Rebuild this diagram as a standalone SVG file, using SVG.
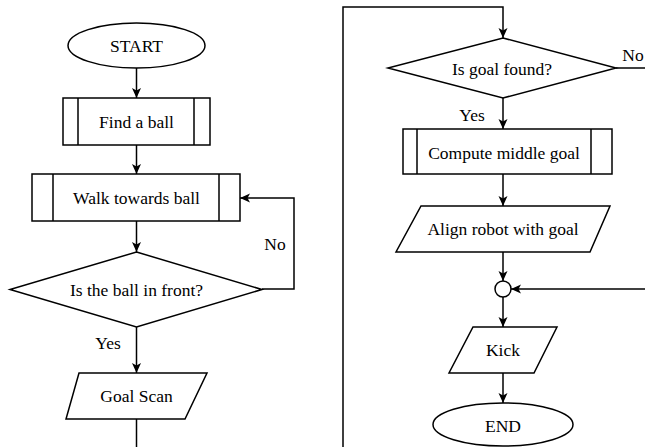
<svg xmlns="http://www.w3.org/2000/svg" width="645" height="447" viewBox="0 0 645 447">
<defs>
<marker id="arr" markerWidth="12" markerHeight="12" viewBox="0 0 12 12" refX="11" refY="6" orient="auto" markerUnits="userSpaceOnUse">
<path d="M1,1.5 L11,6 L1,10.5 L3.5,6 Z" fill="#000"/>
</marker>
</defs>
<style>
.s{fill:#fff;stroke:#000;stroke-width:1.5}
.l{fill:none;stroke:#000;stroke-width:1.5}
.c{fill:none;stroke:#000;stroke-width:1.5;marker-end:url(#arr)}
</style>
<rect width="645" height="447" fill="#fff"/>
<g id="connectors">
<path class="c" d="M136.5,68 V98"/>
<path class="c" d="M136.5,145 V174"/>
<path class="c" d="M136.5,221 V252"/>
<path class="c" d="M262,289 H294 V198 H240"/>
<path class="c" d="M136.5,327 V373"/>
<path class="l" d="M136.5,419 V447"/>
<path class="c" d="M343,447 V7 H503 V38"/>
<path class="l" d="M616,68 H645"/>
<path class="c" d="M503,98 V129"/>
<path class="c" d="M503,174 V206"/>
<path class="c" d="M503,252 V281"/>
<path class="c" d="M645,289 H511"/>
<path class="c" d="M503,297 V327"/>
<path class="c" d="M503,373 V403"/>
<text font-family="Liberation Serif" font-size="17.5" text-anchor="middle" x="275" y="250">No</text>
<text font-family="Liberation Serif" font-size="17.5" text-anchor="middle" x="108" y="349">Yes</text>
<text font-family="Liberation Serif" font-size="17.5" text-anchor="middle" x="633" y="61">No</text>
<text font-family="Liberation Serif" font-size="17.5" text-anchor="middle" x="472" y="121">Yes</text>
</g>
<g id="start">
<ellipse class="s" cx="136.5" cy="45.5" rx="68.5" ry="22.5"/>
<text font-family="Liberation Serif" font-size="17.5" text-anchor="middle" x="136.5" y="52">START</text>
</g>
<g id="find">
<rect class="s" x="63" y="98" width="147" height="47"/>
<path class="l" d="M78,98 V145 M194,98 V145"/>
<text font-family="Liberation Serif" font-size="17.5" text-anchor="middle" x="136.5" y="128">Find a ball</text>
</g>
<g id="walk">
<rect class="s" x="32" y="174" width="208" height="47"/>
<path class="l" d="M53,174 V221 M219,174 V221"/>
<text font-family="Liberation Serif" font-size="17.5" text-anchor="middle" x="136.5" y="204">Walk towards ball</text>
</g>
<g id="infront">
<path class="s" d="M136.5,252 L262,289.5 L136.5,327 L10,289.5 Z"/>
<text font-family="Liberation Serif" font-size="17.5" text-anchor="middle" x="136.5" y="296">Is the ball in front?</text>
</g>
<g id="goalscan">
<path class="s" d="M79,373 H207 L185,419 H66 Z"/>
<text font-family="Liberation Serif" font-size="17.5" text-anchor="middle" x="136.5" y="402">Goal Scan</text>
</g>
<g id="goalfound">
<path class="s" d="M503,38 L616,68 L503,98 L388,68 Z"/>
<text font-family="Liberation Serif" font-size="17.5" text-anchor="middle" x="502" y="75">Is goal found?</text>
</g>
<g id="compute">
<rect class="s" x="403" y="129" width="209" height="45"/>
<path class="l" d="M417,129 V174 M591,129 V174"/>
<text font-family="Liberation Serif" font-size="17.5" text-anchor="middle" x="504" y="159">Compute middle goal</text>
</g>
<g id="align">
<path class="s" d="M421,206 H610 L590,252 H396 Z"/>
<text font-family="Liberation Serif" font-size="17.5" text-anchor="middle" x="503" y="235">Align robot with goal</text>
</g>
<g id="merge">
<circle class="s" cx="503" cy="289" r="8"/>
</g>
<g id="kick">
<path class="s" d="M473,327 H557 L534,373 H449 Z"/>
<text font-family="Liberation Serif" font-size="17.5" text-anchor="middle" x="503" y="356">Kick</text>
</g>
<g id="end">
<ellipse class="s" cx="503" cy="424.5" rx="70" ry="21.5"/>
<text font-family="Liberation Serif" font-size="17.5" text-anchor="middle" x="503" y="432">END</text>
</g>
</svg>
